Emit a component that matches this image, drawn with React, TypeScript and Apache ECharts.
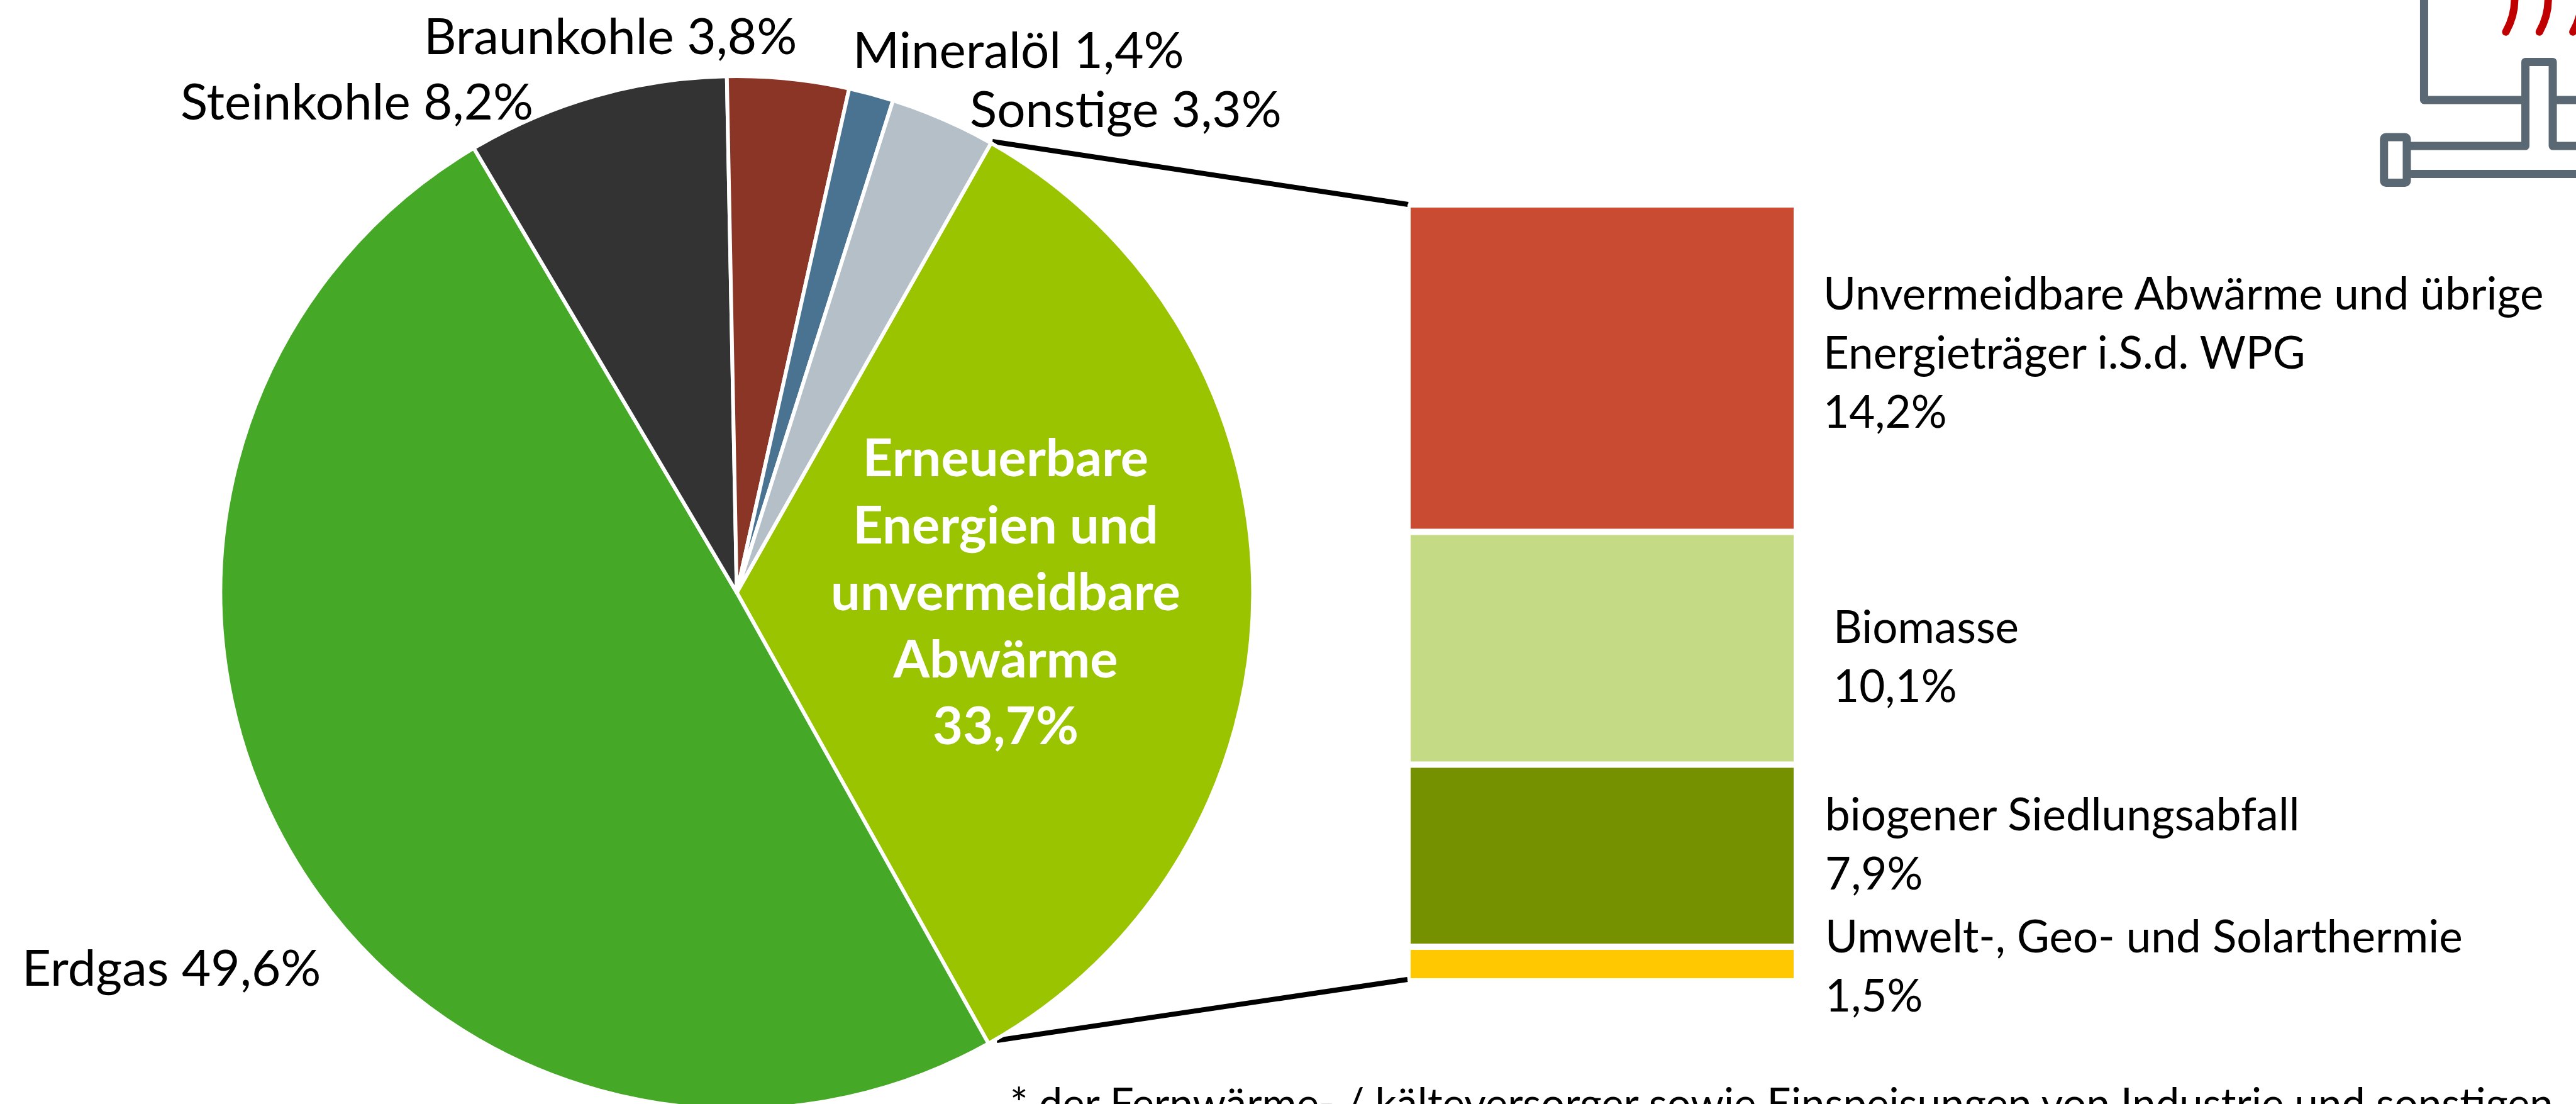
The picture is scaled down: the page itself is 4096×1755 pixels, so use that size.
import React, { useEffect, useRef } from "react";
import * as echarts from "echarts";

const pieNames = ["Erneuerbare\nEnergien und\nunvermeidbare\nAbwärme", "Erdgas", "Steinkohle", "Braunkohle", "Mineralöl", "Sonstige"];
const pieValues = [33.7, 49.6, 8.2, 3.8, 1.4, 3.3];
const pieColors = ["#9BC400", "#45A927", "#333333", "#8B3527", "#4A7391", "#B5BFC8"];

const barNames = ["Unvermeidbare Abwärme und übrige\nEnergieträger i.S.d. WPG", "Biomasse", "biogener Siedlungsabfall", "Umwelt-, Geo- und Solarthermie"];
const barValues = [14.2, 10.1, 7.9, 1.5];
const barColors = ["#C84B32", "#C5DA85", "#759100", "#FFC800"];

const footnote = "* der Fernwärme- / kälteversorger sowie Einspeisungen von Industrie und sonstigen";

const FONT = "Lato";
const FS_PIE = 80;
const FS_BOLD = 83;
const FS_BAR = 71;
const FS_NOTE = 67;
const fmt = (v: number) => v.toFixed(1).replace(".", ",") + "%";

const pieLabelPos: any[] = [
  { x: 1599, y: 938, align: "center" },
  { x: 35, y: 1536, align: "left" },
  { x: 287, y: 159, align: "left" },
  { x: 674, y: 55, align: "left" },
  { x: 1356, y: 77, align: "left" },
  { x: 1542, y: 171, align: "left" },
];
const barLabelPos: any[] = [
  { x: 2899, y: 558 },
  { x: 2915, y: 1041 },
  { x: 2902, y: 1339 },
  { x: 2902, y: 1533 },
];

const k = 0.518;
const P = (x: number, y: number) => [x * k, y * k];
const GREY = "#5A6874";
const RED = "#C00000";

function iconGraphics() {
  const grey = { stroke: GREY, lineWidth: 13, fill: "none", lineJoin: "round" as const };
  const poly = (pts: number[][]) => ({ type: "polyline", silent: true, shape: { points: pts }, style: grey });
  const arc = (dx: number) => {
    const a = P(7718 + dx, -20), b = P(7692 + dx, 98), c1 = P(7722 + dx, 20), c2 = P(7712 + dx, 62);
    return {
      type: "bezierCurve", silent: true,
      shape: { x1: a[0], y1: a[1], x2: b[0], y2: b[1], cpx1: c1[0], cpy1: c1[1], cpx2: c2[0], cpy2: c2[1] },
      style: { stroke: RED, lineWidth: 12, fill: "none", lineCap: "round" as const },
    };
  };
  const rectA = P(7318, 421);
  return [
    poly([P(7441, -20), P(7441, 307), P(7752, 307)]),
    poly([P(7836, 307), P(7930, 307)]),
    poly([P(7390, 448), P(7752, 448), P(7752, 190), P(7836, 190), P(7836, 448), P(7930, 448)]),
    poly([P(7390, 534), P(7930, 534)]),
    {
      type: "rect", silent: true,
      shape: { x: rectA[0], y: rectA[1], width: 70 * k, height: 140 * k, r: 3 },
      style: grey,
    },
    arc(0), arc(103), arc(206),
  ];
}

export default function App() {
  const ref = useRef<HTMLDivElement>(null);
  useEffect(() => {
    document.body.style.margin = "0";
    const chart = echarts.init(ref.current!, undefined, { renderer: "svg" });
    chart.setOption({
      animation: false,
      backgroundColor: "#FFFFFF",
      grid: { left: 2238, top: 325, width: 619, height: 1235, containLabel: false },
      xAxis: { type: "category", data: ["Anteil"], show: false },
      yAxis: { type: "value", min: 0, max: 33.7, inverse: true, show: false },
      series: [
        {
          type: "pie",
          center: [1171.5, 942],
          radius: [0, 821],
          startAngle: 60.5,
          clockwise: true,
          avoidLabelOverlap: false,
          silent: true,
          itemStyle: { borderColor: "#FFFFFF", borderWidth: 6 },
          labelLine: { show: false },
          label: {
            show: true,
            position: "outside",
            fontFamily: FONT,
            fontSize: FS_PIE,
            color: "#000000",
          },
          labelLayout: (p: any) => ({ ...pieLabelPos[p.dataIndex], verticalAlign: "middle", hideOverlap: false }),
          data: pieNames.map((name, i) => ({
            name,
            value: pieValues[i],
            itemStyle: { color: pieColors[i] },
            label: i === 0
              ? {
                  formatter: `${name}\n${fmt(pieValues[i])}`,
                  color: "#FFFFFF",
                  fontWeight: "bold",
                  fontSize: FS_BOLD,
                  lineHeight: 106.5,
                  align: "center",
                }
              : { formatter: `${name} ${fmt(pieValues[i])}` },
          })),
        },
        ...barNames.map((name, i) => ({
          type: "bar",
          name,
          stack: "detail",
          barWidth: "100%",
          silent: true,
          data: [barValues[i]],
          itemStyle: { color: barColors[i], borderColor: "#FFFFFF", borderWidth: 5 },
          label: {
            show: true,
            position: "inside",
            formatter: `${name}\n${fmt(barValues[i])}`,
            fontFamily: FONT,
            fontSize: FS_BAR,
            lineHeight: 94,
            color: "#000000",
            align: "left",
          },
          labelLayout: () => ({ ...barLabelPos[i], align: "left", verticalAlign: "middle", hideOverlap: false }),
        })),
      ],
      graphic: [
        {
          type: "line", silent: true,
          shape: { x1: 1578, y1: 225, x2: 2239, y2: 325 },
          style: { stroke: "#000000", lineWidth: 8 },
        },
        {
          type: "line", silent: true,
          shape: { x1: 1585, y1: 1654, x2: 2238, y2: 1557 },
          style: { stroke: "#000000", lineWidth: 8 },
        },
        {
          type: "text", silent: true, x: 1606, y: 1718,
          style: { text: footnote, font: `${FS_NOTE}px ${FONT}`, fill: "#000000", verticalAlign: "top" },
        },
        ...iconGraphics(),
      ],
    });
    return () => chart.dispose();
  }, []);
  return <div ref={ref} style={{ width: 4096, height: 1755, overflow: "hidden" }} />;
}
